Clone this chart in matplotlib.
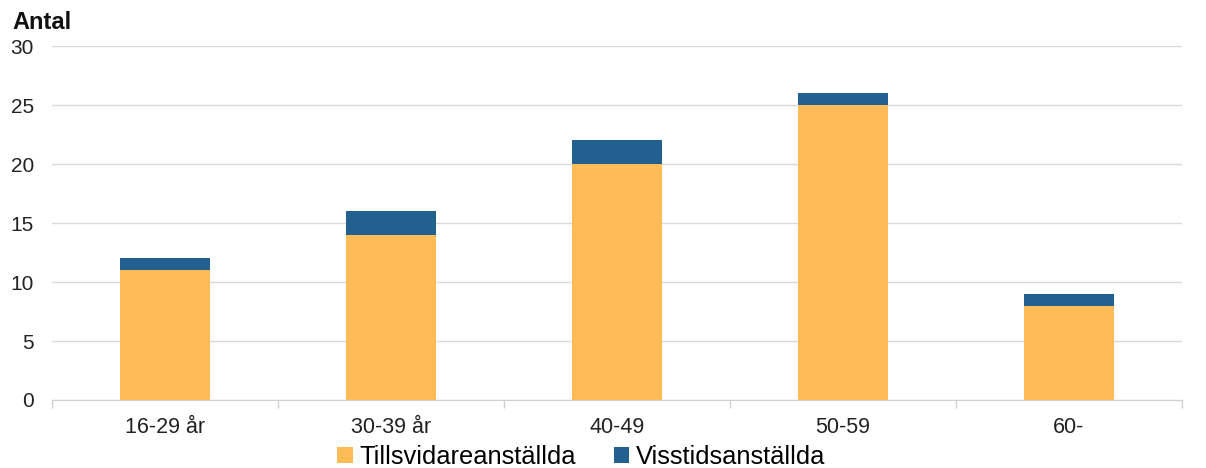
import matplotlib
matplotlib.use("Agg")
import matplotlib.pyplot as plt
import numpy as np

categories = ["16-29 år", "30-39 år", "40-49", "50-59", "60-"]
tillsvidare = [11, 14, 20, 25, 8]
visstid = [1, 2, 2, 1, 1]
series_names = ["Tillsvidareanställda", "Visstidsanställda"]
yticks = [0, 5, 10, 15, 20, 25, 30]

plt.rcParams['font.family'] = ['Liberation Sans', 'DejaVu Sans']

fig = plt.figure(figsize=(12.06, 4.68), dpi=100)
ax = fig.add_axes([0.0431, 0.1453, 0.9370, 0.7564])

x = np.arange(len(categories))
c1 = '#FFBB55'
c2 = '#21608F'
ax.bar(x, tillsvidare, width=0.4, color=c1, label=series_names[0], zorder=3)
ax.bar(x, visstid, width=0.4, bottom=tillsvidare, color=c2, label=series_names[1], zorder=3)

ax.set_xlim(-0.5, len(categories) - 0.5)
ax.set_ylim(0, 30)
ax.set_yticks(yticks)
ax.set_yticklabels([str(v) for v in yticks], fontsize=15, color='#222222')
ax.tick_params(axis='y', length=0, pad=13)
ax.yaxis.grid(True, color='#d9d9d9', linewidth=1, zorder=0)
ax.set_xticks(x)
ax.set_xticklabels(categories, fontsize=15.5, color='#222222')
ax.tick_params(axis='x', which='major', length=0, pad=12)
ax.set_xticks(np.arange(-0.5, len(categories)), minor=True)
ax.tick_params(axis='x', which='minor', length=6, color='#d0d0d0', width=1)

for s in ['top', 'right', 'left']:
    ax.spines[s].set_visible(False)
ax.spines['bottom'].set_color('#d0d0d0')
ax.spines['bottom'].set_zorder(4)

fig.text(0.010, 0.952, "Antal", fontsize=17, fontweight='bold', ha='left', va='center', color='#111111')

leg = fig.legend(loc='center', bbox_to_anchor=(0.482, 0.024), ncol=2, frameon=False,
                 fontsize=18.4, handlelength=0.6, handleheight=0.6, handletextpad=0.25,
                 columnspacing=1.5, borderaxespad=0, borderpad=0)

fig.savefig("out.png", dpi=100)
